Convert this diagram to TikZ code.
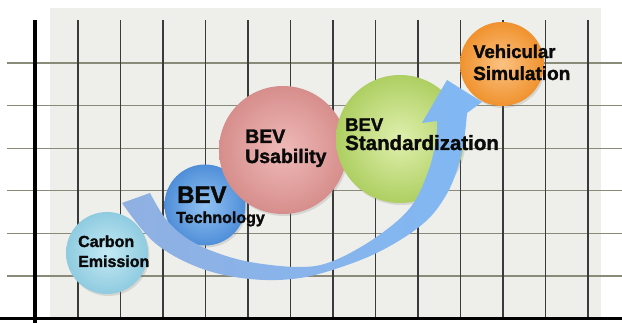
\documentclass[tikz,border=0pt]{standalone}
\usepackage{fontspec}
\setmainfont{Liberation Sans}
\newfontfamily\heavy[FakeBold=1.6]{Liberation Sans Bold}
\usetikzlibrary{shadows}
\definecolor{panel}{HTML}{EEEEEA}
\definecolor{hgridc}{HTML}{8A8A78}
\definecolor{vgridc}{HTML}{3A3A3A}
\definecolor{txt}{HTML}{0A0A0A}
\definecolor{carbonin}{HTML}{C4EAF4}
\definecolor{carbonout}{HTML}{8FCBE0}
\definecolor{techin}{HTML}{92C2F2}
\definecolor{techout}{HTML}{4F8ED8}
\definecolor{usein}{HTML}{EFBAB8}
\definecolor{useout}{HTML}{D68E8C}
\definecolor{stdin}{HTML}{E0F0AE}
\definecolor{stdout}{HTML}{AECF62}
\definecolor{vehin}{HTML}{FBC282}
\definecolor{vehout}{HTML}{F0922E}
\definecolor{arrA}{HTML}{90B0E2}
\definecolor{arrB}{HTML}{4E8AD6}
\definecolor{arrC}{HTML}{80B8F4}
\begin{document}
\begin{tikzpicture}[x=1pt,y=-1pt,
  ball/.style={circle, inner sep=0pt, draw=none,
    drop shadow={shadow xshift=1.5pt, shadow yshift=-2pt, opacity=0.22}},
  hgrid/.style={draw=hgridc, line width=1.3pt},
  vgrid/.style={draw=vgridc, line width=1.4pt},
  axisline/.style={draw=black, line width=3.5pt},
  lbl/.style={anchor=base west, inner sep=0pt, text=txt}]
\useasboundingbox (0,0) rectangle (622,323);
\fill[white] (0,0) rectangle (622,323);
\fill[panel] (50,8) rectangle (601,318);
% grid
\foreach \i in {0,...,5} \draw[hgrid] (7,{63+42.6*\i}) -- (622,{63+42.6*\i});
\foreach \i in {0,...,12} \draw[vgrid] ({78+42.5*\i},20) -- ({78+42.5*\i},318);
% axes
\coordinate (ytop) at (35,20);
\coordinate (ybot) at (35,323);
\coordinate (xl) at (0,319);
\coordinate (xr) at (622,319);
\draw[axisline] (ytop) -- (ybot);
\draw[axisline, line width=3pt] (xl) -- (xr);
% circles
\node[ball, minimum size=82pt, inner color=carbonin, outer color=carbonout] (carbon) at (107,253) {};
\node[ball, minimum size=81pt, inner color=techin, outer color=techout] (tech) at (205,205) {};
\node[ball, minimum size=128pt, inner color=usein, outer color=useout] (use) at (283,150) {};
\node[ball, minimum size=128pt, inner color=stdin, outer color=stdout] (std) at (400,139) {};
\node[ball, minimum size=84pt, inner color=vehin, outer color=vehout] (veh) at (502,64) {};
% arrow
\coordinate (tailtop) at (150,193);
\coordinate (tailbot) at (122,203);
\coordinate (tip) at (447,80);
\shade[left color=arrA, middle color=arrB, right color=arrC]
  plot[smooth, tension=0.6] coordinates {(150,193) (165,218) (185,237) (212,251) (250,262) (300,267) (333,261) (375,238) (410,208) (428,172) (436,140) (437,121)}
  -- (422,123) -- (tip) -- (482,102) --
  plot[smooth, tension=0.6] coordinates {(467,113) (464,140) (457,170) (445,197) (425,222) (390,246) (350,264) (300,278) (250,279) (200,268) (155,243) (122,203)}
  -- cycle;
% labels
\node[lbl, font=\heavy\fontsize{16}{16}\selectfont] (c1) at (78,247) {Carbon};
\node[lbl, font=\heavy\fontsize{16}{16}\selectfont] (c2) at (78,267) {Emission};
\node[lbl, font=\heavy\fontsize{24}{24}\selectfont] (t1) at (177,203) {BEV};
\node[lbl, font=\heavy\fontsize{16}{16}\selectfont] (t2) at (176,223) {Technology};
\node[lbl, font=\heavy\fontsize{19.5}{20}\selectfont] (u1) at (245,143) {BEV};
\node[lbl, font=\heavy\fontsize{19.5}{20}\selectfont] (u2) at (245,163) {Usability};
\node[lbl, font=\heavy\fontsize{18.5}{20}\selectfont] (s1) at (345,131) {BEV};
\node[lbl, font=\heavy\fontsize{20.5}{20}\selectfont] (s2) at (345,150) {Standardization};
\node[lbl, font=\heavy\fontsize{18.5}{20}\selectfont] (v1) at (473,58) {Vehicular};
\node[lbl, font=\heavy\fontsize{19}{20}\selectfont] (v2) at (473,80) {Simulation};
\end{tikzpicture}
\end{document}
